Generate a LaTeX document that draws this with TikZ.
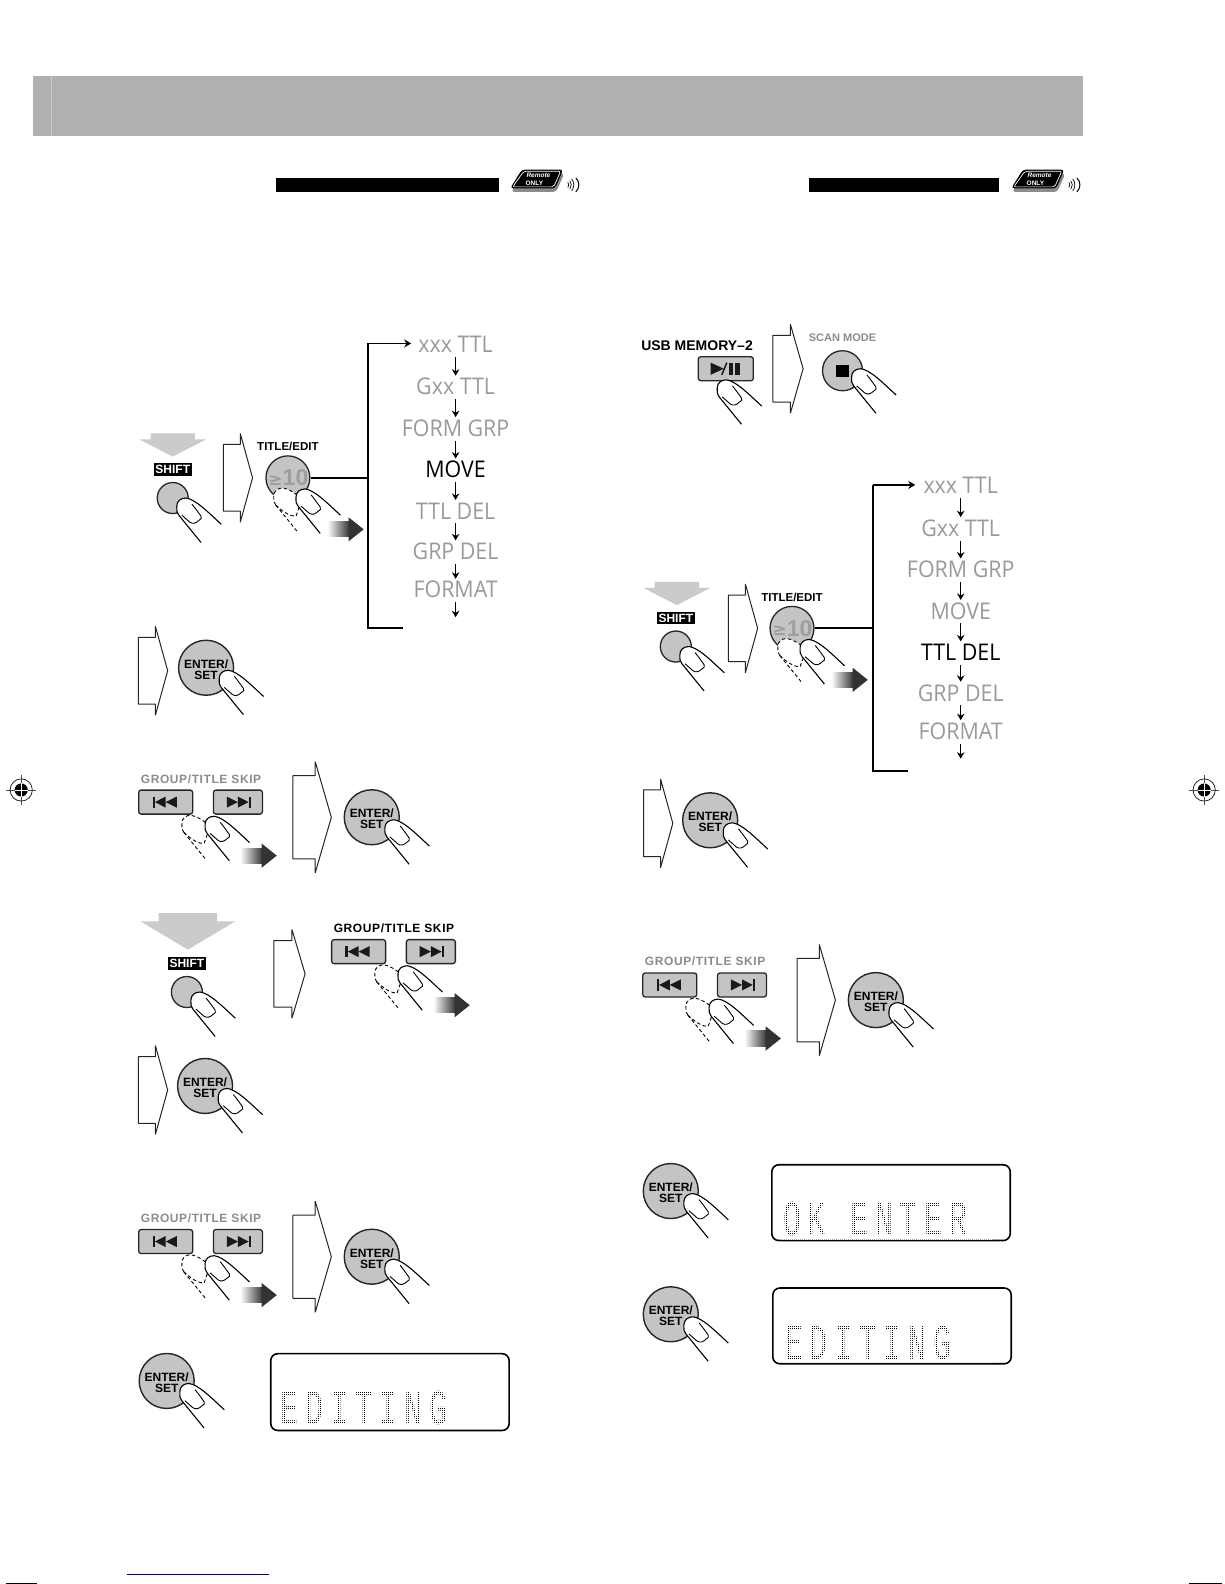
\documentclass[tikz,border=0pt]{standalone}
\usepackage{fontspec}
\setmainfont{Liberation Sans}
\newfontfamily\flowfont[FakeStretch=0.93]{Open Sans}
\newfontfamily\lcdfont[LetterSpace=22.4]{Liberation Mono}
\newfontfamily\symfont{DejaVu Sans}
\usetikzlibrary{arrows.meta,calc,shapes.geometric}
\definecolor{btngray}{HTML}{C4C4C4}
\definecolor{flowgray}{HTML}{9A9A9A}
\definecolor{labgray}{HTML}{8C8C8C}
\definecolor{arrgray}{HTML}{CBCBCB}
\tikzset{
  enterb/.style={circle,draw=black!85,line width=1.4pt,fill=btngray,minimum size=55pt,inner sep=0pt},
  entert/.style={inner sep=0pt,align=center,font=\fontsize{12}{11}\selectfont\bfseries},
  roundb/.style={circle,draw=black!85,line width=1.3pt,fill=btngray,inner sep=0pt},
  skipb/.style={rectangle,rounded corners=2.5pt,draw=black!85,line width=1.3pt,fill=btngray,inner sep=0pt,minimum height=24pt},
  lab/.style={inner sep=0pt,font=\fontsize{12}{12}\selectfont\bfseries},
  shiftlab/.style={fill=black,text=white,inner sep=0pt,minimum width=38pt,minimum height=12.5pt,font=\fontsize{12}{12}\selectfont\bfseries},
  flow/.style={inner sep=0pt,text height=16pt,text depth=0pt,font=\fontsize{23}{23}\flowfont,text=flowgray},
  flowon/.style={flow,text=black},
  farr/.style={-{Stealth[length=6.5pt,width=7.5pt]},line width=1.5pt,shorten >=3pt,shorten <=4pt},
  bracket/.style={line width=1.8pt},
  holl/.style={draw=black!85,line width=1pt,fill=white,line join=bevel},
  fing/.style={line width=1.1pt,draw=black},
  ghost/.style={line width=.9pt,draw=black,dash pattern=on 3.5pt off 2.5pt},
  lcdbox/.style={rectangle,rounded corners=7pt,draw=black,line width=1.6pt,fill=white,inner sep=0pt}
}
\newcommand\fingerpic[2]{%
  \begin{scope}[shift={(#1,#2)}]
    \fill[white] (0,0) .. controls (0,-5) and (4,-8) .. (9,-8) .. controls (18,-7) and (30,5) .. (44,18) -- (24,36) -- (2,9) .. controls (0,6) .. (0,0);
    \draw[fing] (2,9) .. controls (0,6) .. (0,0) .. controls (0,-5) and (4,-8) .. (9,-8) .. controls (18,-7) and (30,5) .. (44,18);
    \draw[fing] (2,9) -- (24,36);
    \draw[fing,line width=.9pt] (15,-2) .. controls (19,3) .. (24,10) .. controls (25,12) and (24,13) .. (22,14) .. controls (19,17) and (16,18) .. (13,16) -- (5,9);
  \end{scope}}
\newcommand\ghostpic[2]{%
  \begin{scope}[shift={(#1,#2)}]
    \draw[ghost,fill=white] (2,9) .. controls (0,6) .. (0,0) .. controls (0,-5) and (4,-8) .. (9,-8) .. controls (16,-7) and (22,-2) .. (28,3) -- (22,20) .. controls (17,20) and (12,18) .. (2,9);
    \draw[ghost] (2,9) -- (24,36);
  \end{scope}}
\newcommand\hollowarr[4]{% xl xr cy h
  \pgfmathsetmacro\hb{#1+0.58*(#2-#1)}
  \draw[holl] (#1,#3-0.375*#4) -- (\hb,#3-0.375*#4) -- (\hb,#3-0.5*#4) -- (#2,#3) -- (\hb,#3+0.5*#4) -- (\hb,#3+0.375*#4) -- (#1,#3+0.375*#4) -- cycle;}
\newcommand\movearr[2]{% tipx y
  \shade[left color=white,right color=black!80] (#1-36,#2-7.5) rectangle (#1-14,#2+7.5);
  \fill[black!80] (#1-15,#2-12) -- (#1,#2) -- (#1-15,#2+12) -- cycle;}
\newcommand\enterbtn[3]{%
  \node[enterb] (#1) at (#2,#3) {};
  \node[entert] (#1t) at (#2,#3+1.5) {ENTER/\\SET};
  \fingerpic{#2+13}{#3+10.5}}
\newcommand\downsmall[2]{%
  \fill[arrgray] (#1-22,#2) -- (#1+22,#2) -- (#1+22,#2+6) -- (#1+33,#2+6) -- (#1,#2+23) -- (#1-33,#2+6) -- (#1-22,#2+6) -- cycle;}
\newcommand\downbig[2]{%
  \fill[arrgray] (#1-29,#2) -- (#1+29,#2) -- (#1+29,#2+8) -- (#1+47,#2+8) -- (#1,#2+36) -- (#1-47,#2+8) -- (#1-29,#2+8) -- cycle;}
\newcommand\shiftbtn[3]{% name cx labely
  \node[shiftlab] (#1lab) at (#2,#3) {SHIFT};
  \node[roundb,minimum size=31pt] (#1) at (#2,#3+28) {};
  \fingerpic{#2+4}{#3+36}}
\newcommand\titlebtn[3]{%
  \node[lab,font=\fontsize{11.5}{11.5}\selectfont\bfseries] (#1lab) at (#2,#3-31) {TITLE/EDIT};
  \node[roundb,minimum size=43pt,text=black!38] (#1) at (#2,#3) {\kern1pt\raisebox{.5pt}{\fontsize{17}{17}\symfont\bfseries ≥}\kern0pt\fontsize{23}{23}\selectfont\bfseries 10};
  \ghostpic{#2-14}{#3+18}
  \fingerpic{#2+8}{#3+19}
  \movearr{#2+75}{#3+51}}
\newcommand\skipblock[4]{% name lx top labelcolor
  \node[lab,text=#4] (#1lab) at (#2+62,#3-11) {\addfontfeature{LetterSpace=5}GROUP/TITLE SKIP};
  \node[skipb,minimum width=54pt] (#1a) at (#2+27,#3+12) {};
  \node[skipb,minimum width=49pt] (#1b) at (#2+98.5,#3+12) {};
  \fill[black!90] ($(#1a)+(-13,-5.5)$) rectangle ($(#1a)+(-10.6,5.5)$);
  \fill[black!90] ($(#1a)+(-10.6,0)$) -- ($(#1a)+(0,-5.5)$) -- ($(#1a)+(0,5.5)$) -- cycle;
  \fill[black!90] ($(#1a)+(0,0)$) -- ($(#1a)+(11,-5.5)$) -- ($(#1a)+(11,5.5)$) -- cycle;
  \fill[black!90] ($(#1b)+(10.6,-5.5)$) rectangle ($(#1b)+(13,5.5)$);
  \fill[black!90] ($(#1b)+(10.6,0)$) -- ($(#1b)+(0,-5.5)$) -- ($(#1b)+(0,5.5)$) -- cycle;
  \fill[black!90] ($(#1b)+(0,0)$) -- ($(#1b)+(-11,-5.5)$) -- ($(#1b)+(-11,5.5)$) -- cycle;
  \ghostpic{#2+43}{#3+33}
  \fingerpic{#2+66}{#3+34}
  \movearr{#2+137}{#3+65}}
\newcommand\flowcol[4]{% prefix dx dy / index of active
  \begin{scope}[shift={(#2,#3)}]
    \node[flow] (#1a) at (451,341) {xxx TTL};
    \node[flow] (#1b) at (451,383) {Gxx TTL};
    \node[flow] (#1c) at (451,424) {FORM GRP};
    \ifnum#4=4 \node[flowon] (#1d) at (451,465) {MOVE};\else \node[flow] (#1d) at (451,465) {MOVE};\fi
    \ifnum#4=5 \node[flowon] (#1e) at (451,506) {TTL DEL};\else \node[flow] (#1e) at (451,506) {TTL DEL};\fi
    \node[flow] (#1f) at (451,546) {GRP DEL};
    \node[flow] (#1g) at (451,584) {FORMAT};
    \coordinate (#1end) at (451,611);
  \end{scope}
  \draw[farr] (#1a) -- (#1b);
  \draw[farr] (#1b) -- (#1c);
  \draw[farr] (#1c) -- (#1d);
  \draw[farr] (#1d) -- (#1e);
  \draw[farr] (#1e) -- (#1f);
  \draw[farr] (#1f) -- (#1g);
  \draw[farr,shorten >=0pt] (#1g) -- (#1end);}
\newcommand\lcd[8]{% name x1 y1 x2 y2 textx texty text
  \node[lcdbox,minimum width=#4*1.0102pt-#2*1.0102pt,minimum height=#5*1.0102pt-#3*1.0102pt] (#1) at ({(#2+#4)/2},{(#3+#5)/2}) {};
  \node[anchor=south west,inner sep=0pt,xscale=.6,transform shape,font=\fontsize{50}{50}\lcdfont,text=black] (#1txt) at (#6,#7) {#8};
  \foreach \k in {0,...,105} {\draw[white,line width=.5pt] ({#6-2+\k*1.98},#7-36) -- ({#6-2+\k*1.98},#7+3);}
  \foreach \k in {0,...,19} {\draw[white,line width=.5pt] (#6-3,{#7-36+\k*1.98}) -- (#6+205,{#7-36+\k*1.98});}}
\newcommand\remote[3]{% name cx cy
  \fill[black!45,rounded corners=3pt] (#2-15.5,#3-7) -- (#2+25.5,#3-7) -- (#2+17.5,#3+11) -- (#2-27,#3+11) -- cycle;
  \fill[black,rounded corners=3pt] (#2-16.5,#3-11) -- (#2+24.5,#3-11) -- (#2+16.5,#3+7.5) -- (#2-28,#3+7.5) -- cycle;
  \draw[white,line width=.7pt,rounded corners=2pt] (#2-14.5,#3-9.5) -- (#2+22,#3-9.5) -- (#2+15,#3+6) -- (#2-25.5,#3+6) -- cycle;
  \node[inner sep=0pt,text=white,font=\fontsize{6.5}{6.5}\selectfont\bfseries\itshape] (#1) at (#2,#3-5) {Remote};
  \node[inner sep=0pt,text=white,font=\fontsize{6.5}{6.5}\selectfont\bfseries] (#1o) at (#2-4,#3+2) {ONLY};
  \coordinate (#1c) at (#2+26,#3+4);
  \foreach \r/\w in {4/.7,6.5/.7,9/.7} {\draw[line width=\w pt] (#1c) ++(-40:\r) arc[start angle=-40,end angle=40,radius=\r];}
  \draw[line width=1pt] ($(#1c)+(11,-7)$) .. controls ($(#1c)+(15,-3)$) and ($(#1c)+(15,3)$) .. ($(#1c)+(11,7)$);}
\newcommand\cropmark[2]{%
  \draw[black!70,line width=.7pt] (#1-15,#2) -- (#1+15,#2) (#1,#2-15) -- (#1,#2+15);
  \draw[black!85,line width=.8pt] (#1,#2) circle[radius=11];
  \fill[black] (#1,#2) circle[radius=6.5];
  \draw[white,line width=.9pt] (#1-6.5,#2) -- (#1+6.5,#2) (#1,#2-6.5) -- (#1,#2+6.5);}
\begin{document}
\begin{tikzpicture}[x=1.0102pt,y=-1.0102pt]
\useasboundingbox (0,0) rectangle (1211.64,1568);
\fill[white] (0,0) rectangle (1211.64,1568);
% header
\fill[black!31] (33,75) rectangle (1072,135);
\draw[black!20,line width=1pt] (51,75) -- (51,135);
\fill[black] (273,176) rectangle (494,190);
\fill[black] (801,176) rectangle (989,190);
\remote{rema}{533}{179}
\remote{remb}{1029}{179}
\cropmark{21}{782}
\cropmark{1192}{782}
\draw[line width=1pt,color=blue!55!black] (126,1559) -- (266,1559);
\draw[line width=1pt] (6,1567) -- (37,1567);
\draw[line width=1pt] (1177,1567) -- (1210,1567);
% left column
\downsmall{171}{429}
\shiftbtn{sa}{171}{465}
\hollowarr{221}{250}{473}{88}
\titlebtn{ta}{285}{473}
\flowcol{fa}{0}{0}{4}
\coordinate (ba) at (364,473);
\coordinate (bat) at (364,340);
\coordinate (bab) at (364,622);
\coordinate (bae) at (399,622);
\coordinate (baa) at (407,340);
\draw[bracket] (ta.east) -- (ba);
\draw[bracket] (bae) -- (bab) -- (bat);
\draw[bracket,-{Stealth[length=7pt,width=8pt]}] (bat) -- (baa);
\hollowarr{137}{166}{664}{88}
\enterbtn{ea}{204}{661}
\skipblock{ska}{137}{782}{labgray}
\hollowarr{290}{328}{809}{110}
\enterbtn{eb}{368}{809}
\downbig{186}{904}
\shiftbtn{sb}{185}{954}
\hollowarr{271}{302}{964}{88}
\skipblock{skb}{328}{930}{black}
\hollowarr{137}{166}{1079}{88}
\enterbtn{ec}{203}{1075}
\skipblock{skc}{137}{1217}{labgray}
\hollowarr{290}{328}{1244}{110}
\enterbtn{ed}{368}{1244}
\enterbtn{ee}{165}{1367}
\lcd{la}{268}{1340}{504}{1416}{278}{1411}{EDITING}
% right column
\node[lab,font=\fontsize{14}{14}\selectfont\bfseries] (usbl) at (690,342) {USB MEMORY–2};
\node[skipb,minimum width=55pt] (usb) at (718.5,365) {};
\fill[black!90] ($(usb)+(-15,-6)$) -- ($(usb)+(-2,0)$) -- ($(usb)+(-15,6)$) -- cycle;
\draw[line width=1.5pt,black!90] ($(usb)+(-4,6)$) -- ($(usb)+(1,-6)$);
\fill[black!90] ($(usb)+(3,-6)$) rectangle ($(usb)+(7.5,6)$);
\fill[black!90] ($(usb)+(9.5,-6)$) rectangle ($(usb)+(14,6)$);
\fingerpic{710}{384}
\hollowarr{765}{795}{365}{88}
\node[lab,text=labgray,font=\fontsize{11}{11}\selectfont\bfseries] (scanl) at (834,334) {SCAN MODE};
\node[roundb,minimum size=40pt] (scan) at (834,367) {};
\fill[black] ($(scan)+(-6,-6)$) rectangle ($(scan)+(6,6)$);
\fingerpic{843}{373}
\downsmall{670}{576}
\shiftbtn{sc}{669}{612}
\hollowarr{721}{750}{622}{88}
\titlebtn{tb}{784}{622}
\flowcol{fb}{500}{140}{5}
\coordinate (bb) at (864,622);
\coordinate (bbt) at (864,480);
\coordinate (bbb) at (864,763);
\coordinate (bbe) at (899,763);
\coordinate (bba) at (906,480);
\draw[bracket] (tb.east) -- (bb);
\draw[bracket] (bbe) -- (bbb) -- (bbt);
\draw[bracket,-{Stealth[length=7pt,width=8pt]}] (bbt) -- (bba);
\hollowarr{637}{666}{815}{88}
\enterbtn{ef}{703}{812}
\skipblock{skd}{636}{963}{labgray}
\hollowarr{789}{827}{990}{110}
\enterbtn{eg}{867}{990}
\enterbtn{eh}{664}{1179}
\lcd{lb}{764}{1153}{1000}{1228}{775}{1224}{OK ENTER}
\enterbtn{ei}{664}{1301}
\lcd{lc}{765}{1275}{1001}{1350}{777}{1346}{EDITING}
\end{tikzpicture}
\end{document}
